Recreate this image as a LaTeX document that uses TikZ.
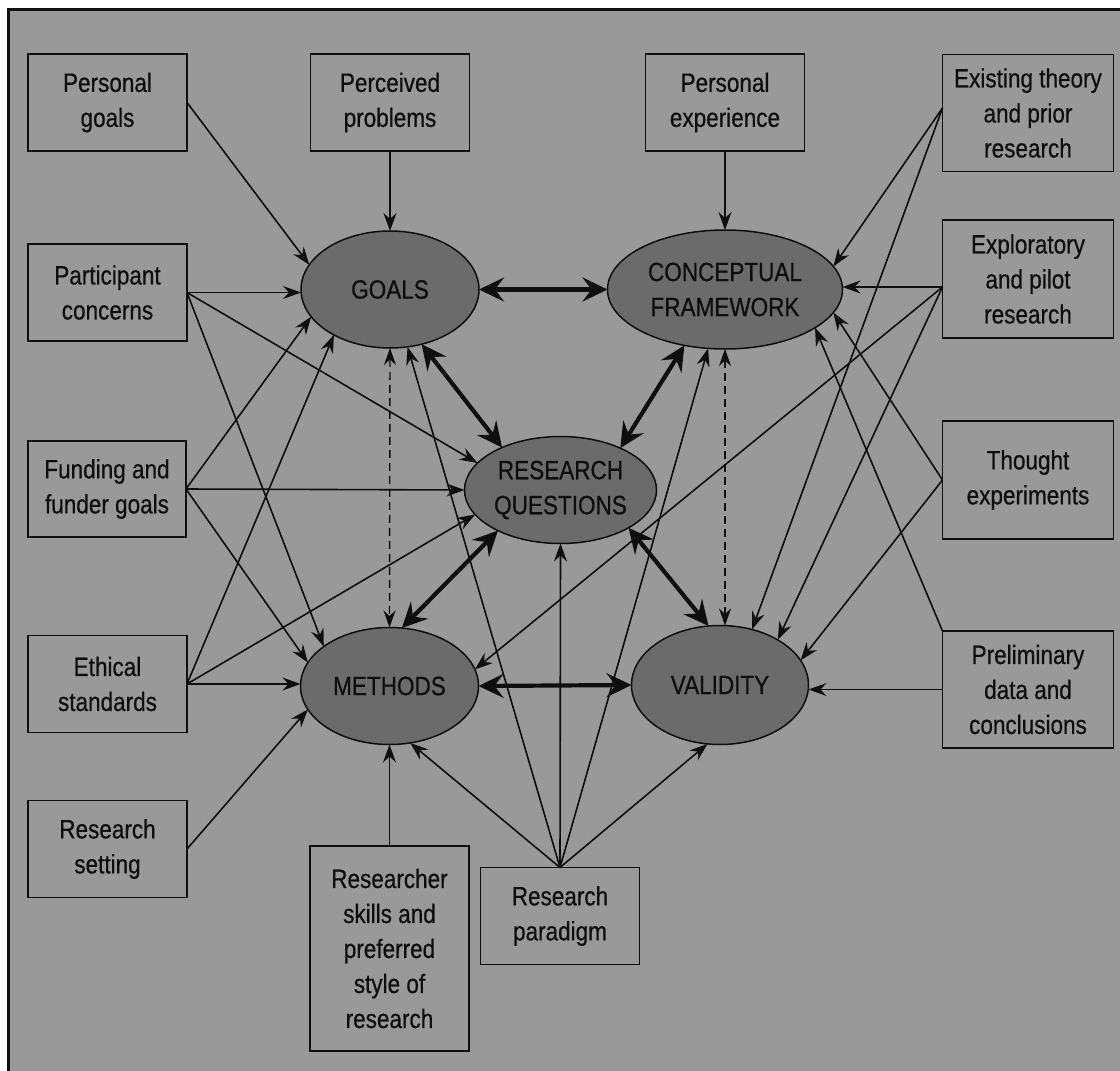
\documentclass[tikz,border=0pt]{standalone}
\usepackage{fontspec}
\setmainfont{Liberation Sans}[FakeStretch=0.85,FakeBold=0.6]
\usetikzlibrary{arrows.meta,shapes.geometric,calc}
\definecolor{paper}{HTML}{999999}
\definecolor{hub}{HTML}{6B6B6B}
\definecolor{ink}{HTML}{0E0E0E}
\begin{document}
\begin{tikzpicture}[x=1pt,y=-1pt,
  every node/.style={font=\fontsize{26.5pt}{35pt}\selectfont, text=ink},
  factor/.style={draw=ink, line width=1.4pt, rectangle, align=center, inner sep=0pt, outer sep=0pt},
  hubnode/.style={draw=ink, line width=1.5pt, ellipse, fill=hub, align=center, inner sep=0pt, outer sep=0pt},
  infl/.style={draw=ink, line width=1.6pt, -{Stealth[length=18pt,width=13pt,inset=6pt]}},
  tie/.style={draw=ink, line width=4.2pt, {Stealth[length=25pt,width=24pt,inset=9pt]}-{Stealth[length=25pt,width=24pt,inset=9pt]}},
  loose/.style={draw=ink, line width=1.4pt, dash pattern=on 8pt off 5pt, {Stealth[length=17pt,width=12pt,inset=5.5pt]}-{Stealth[length=17pt,width=12pt,inset=5.5pt]}},
]
\useasboundingbox (0,0) rectangle (1120,1071);
% page and frame
\fill[white] (0,0) rectangle (1120,1071);
\fill[paper] (8,9) rectangle (1120,1071);
\draw[line width=3pt, ink] (8,1071) -- (8,9) -- (1120,9);

% central components
\node[hubnode, minimum width=178pt, minimum height=117pt] (goals) at (390,289.5) {GOALS};
\node[hubnode, minimum width=235pt, minimum height=119pt] (cf) at (725,289.5) {CONCEPTUAL\\FRAMEWORK};
\node[hubnode, minimum width=192pt, minimum height=107pt] (rq) at (560.5,490) {RESEARCH\\QUESTIONS};
\node[hubnode, minimum width=178pt, minimum height=117pt] (meth) at (389.5,686) {METHODS};
\node[hubnode, minimum width=177pt, minimum height=119pt] (val) at (720,685) {VALIDITY};

% contextual factors
\node[factor, minimum width=159pt, minimum height=97pt] (pgoals) at (107.5,102.5) {Personal\\goals};
\node[factor, minimum width=159pt, minimum height=97pt] (perc) at (390,102.5) {Perceived\\problems};
\node[factor, minimum width=159pt, minimum height=97pt] (pexp) at (725,102.5) {Personal\\experience};
\node[factor, minimum width=171pt, minimum height=117pt] (exist) at (1028,113) {Existing theory\\and prior\\research};
\node[factor, minimum width=171pt, minimum height=118pt] (expl) at (1028,279) {Exploratory\\and pilot\\research};
\node[factor, minimum width=171pt, minimum height=118pt] (thought) at (1028,480) {Thought\\experiments};
\node[factor, minimum width=171pt, minimum height=117pt] (prelim) at (1028,689.5) {Preliminary\\data and\\conclusions};
\node[factor, minimum width=159pt, minimum height=97pt] (part) at (107.5,292.5) {Participant\\concerns};
\node[factor, minimum width=158pt, minimum height=96pt] (fund) at (107,489) {Funding and\\funder goals};
\node[factor, minimum width=159pt, minimum height=97pt] (eth) at (107.5,684) {Ethical\\standards};
\node[factor, minimum width=159pt, minimum height=97pt] (setting) at (107.5,849) {Research\\setting};
\node[factor, minimum width=159pt, minimum height=205pt] (skills) at (389.5,948.5) {Researcher\\skills and\\preferred\\style of\\research};
\node[factor, minimum width=159pt, minimum height=97pt] (para) at (560,916) {Research\\paradigm};

% connector origins on the right-hand boxes
\coordinate (exO) at ([yshift=5pt]exist.west);
\coordinate (xpO) at ([yshift=-8pt]expl.west);

% influences on the components
\draw[infl] (pgoals.east) -- (goals.163.6);
\draw[infl] (perc.south) -- (goals.north);
\draw[infl] (pexp.south) -- (cf.north);

\draw[infl] (part.east) -- (goals.west |- part.east);
\draw[infl] (part.east) -- (rq.162);
\draw[infl] (part.east) -- (meth.149.5);

\draw[infl] (fund.east) -- (goals.199);
\draw[infl] (fund.east) -- (rq.west);
\draw[infl] (fund.east) -- (meth.164);

\draw[infl] (eth.east) -- (goals.219);
\draw[infl] (eth.east) -- (rq.196);
\draw[infl] (eth.east) -- (meth.west |- eth.east);

\draw[infl] (setting.east) -- (meth.196);
\draw[infl] (skills.north) -- (meth.south);

\draw[infl] (para.north) -- (meth.290);
\draw[infl] (para.north) -- (goals.287);
\draw[infl] (para.north) -- (rq.south);
\draw[infl] (para.north) -- (cf.254);
\draw[infl] (para.north) -- (val.258);

\draw[infl] (exO) -- (cf.12.4);
\draw[infl] (exO) -- (val.60.5);

\draw[infl] (xpO) -- (xpO -| cf.east);
\draw[infl] (xpO) -- (meth.11.5);
\draw[infl] (xpO) -- (val.38);

\draw[infl] (thought.west) -- (cf.348.5);
\draw[infl] (thought.west) -- (val.17.5);

\draw[infl] (prelim.west) -- (val.east |- prelim.west);
\draw[infl] (prelim.north west) -- (cf.337.5);

% links between the components
\draw[tie] (goals.east) -- (cf.west);
\draw[tie] (goals.300) -- (rq.144);
\draw[tie] (cf.234) -- (rq.35);
\draw[tie] (rq.213) -- (meth.78);
\draw[tie] (rq.331) -- (val.101);
\draw[tie] (meth.east) -- (val.west);

\draw[loose] (goals.south) -- (meth.north);
\draw[loose] (cf.south) -- (cf.south |- val.north);
\end{tikzpicture}
\end{document}
